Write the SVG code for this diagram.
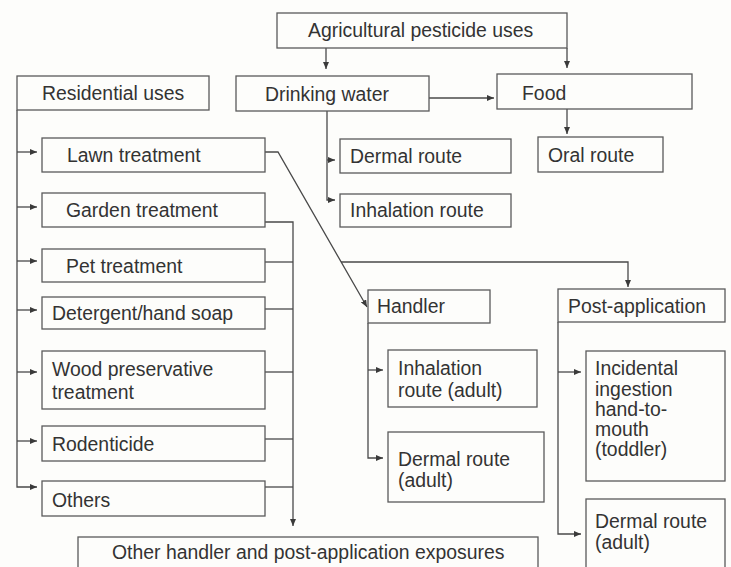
<svg xmlns="http://www.w3.org/2000/svg" width="731" height="567" viewBox="0 0 731 567">
<defs>
<style>
.box{fill:#fdfdfb;stroke:#5a5a5a;stroke-width:1.3}
.t{font-family:"Liberation Sans",Arial,sans-serif;font-size:19.4px;fill:#333}
.c{fill:none;stroke:#4a4a4a;stroke-width:1.3}
.a{marker-end:url(#ah)}
</style>
<marker id="ah" markerWidth="7" markerHeight="6" refX="7" refY="3" orient="auto" markerUnits="userSpaceOnUse">
<path d="M0,0 L7,3 L0,6 z" fill="#3a3a3a"/>
</marker>
</defs>
<rect width="731" height="567" fill="#fdfdfb"/>
<g id="connectors">
<path class="c a" d="M326,48 V69"/>
<path class="c a" d="M567,48 V68"/>
<path class="c a" d="M429,98 H494"/>
<path class="c a" d="M567,109 V134"/>
<path class="c a" d="M327,111 V200 H335"/>
<path class="c a" d="M327,160 H335"/>
<path class="c a" d="M17,110 V487 H37"/>
<path class="c a" d="M17,152 H37"/>
<path class="c a" d="M17,207 H37"/>
<path class="c a" d="M17,261 H37"/>
<path class="c a" d="M17,310 H37"/>
<path class="c a" d="M17,372 H37"/>
<path class="c a" d="M17,441 H37"/>
<path class="c a" d="M265,222 H293 V526"/>
<path class="c" d="M265,262 H293"/>
<path class="c" d="M265,309 H293"/>
<path class="c" d="M265,372 H293"/>
<path class="c" d="M265,439 H293"/>
<path class="c" d="M265,487 H293"/>
<path class="c a" d="M265,152 H278 L367,307"/>
<path class="c a" d="M341,262 H628 V287"/>
<path class="c a" d="M368,323 V458 H383"/>
<path class="c a" d="M368,370 H383"/>
<path class="c a" d="M558,322 V534 H581"/>
<path class="c a" d="M558,372 H581"/>
</g>
<g id="agri"><rect class="box" x="277" y="13" width="290" height="35"/><text class="t" x="308" y="37">Agricultural pesticide uses</text></g>
<g id="drink"><rect class="box" x="236" y="76" width="193" height="35"/><text class="t" x="265" y="101">Drinking water</text></g>
<g id="food"><rect class="box" x="497" y="74" width="195" height="35"/><text class="t" x="522" y="100">Food</text></g>
<g id="residential"><rect class="box" x="17" y="76" width="192" height="34"/><text class="t" x="42" y="100">Residential uses</text></g>
<g id="lawn"><rect class="box" x="42" y="138" width="223" height="34"/><text class="t" x="67" y="162">Lawn treatment</text></g>
<g id="garden"><rect class="box" x="42" y="193" width="223" height="34"/><text class="t" x="66" y="217">Garden treatment</text></g>
<g id="pet"><rect class="box" x="42" y="249" width="223" height="33"/><text class="t" x="66" y="273">Pet treatment</text></g>
<g id="detergent"><rect class="box" x="42" y="297" width="223" height="32"/><text class="t" x="52" y="320">Detergent/hand soap</text></g>
<g id="wood"><rect class="box" x="42" y="351" width="223" height="58"/><text class="t" x="52" y="376">Wood preservative</text><text class="t" x="52" y="399">treatment</text></g>
<g id="rodenticide"><rect class="box" x="42" y="426" width="223" height="35"/><text class="t" x="52" y="451">Rodenticide</text></g>
<g id="others"><rect class="box" x="42" y="481" width="223" height="35"/><text class="t" x="52" y="507">Others</text></g>
<g id="dermal"><rect class="box" x="340" y="139" width="171" height="34"/><text class="t" x="350" y="163">Dermal route</text></g>
<g id="inhalation"><rect class="box" x="340" y="194" width="171" height="33"/><text class="t" x="350" y="217">Inhalation route</text></g>
<g id="oral"><rect class="box" x="538" y="137" width="125" height="35"/><text class="t" x="548" y="162">Oral route</text></g>
<g id="handler"><rect class="box" x="368" y="290" width="122" height="33"/><text class="t" x="377" y="313">Handler</text></g>
<g id="inhal-adult"><rect class="box" x="388" y="350" width="149" height="57"/><text class="t" x="398" y="375">Inhalation</text><text class="t" x="398" y="397">route (adult)</text></g>
<g id="dermal-adult-h"><rect class="box" x="388" y="432" width="156" height="70"/><text class="t" x="398" y="466">Dermal route</text><text class="t" x="398" y="487">(adult)</text></g>
<g id="post"><rect class="box" x="558" y="289" width="167" height="33"/><text class="t" x="568" y="313">Post-application</text></g>
<g id="incidental"><rect class="box" x="586" y="351" width="139" height="130"/><text class="t" x="595" y="375">Incidental</text><text class="t" x="595" y="396">ingestion</text><text class="t" x="595" y="416">hand-to-</text><text class="t" x="595" y="436">mouth</text><text class="t" x="595" y="456">(toddler)</text></g>
<g id="dermal-adult-p"><rect class="box" x="586" y="499" width="139" height="80"/><text class="t" x="595" y="528">Dermal route</text><text class="t" x="595" y="549">(adult)</text></g>
<g id="other-exposures"><rect class="box" x="78" y="537" width="460" height="40"/><text class="t" x="112" y="559">Other handler and post-application exposures</text></g>
</svg>
